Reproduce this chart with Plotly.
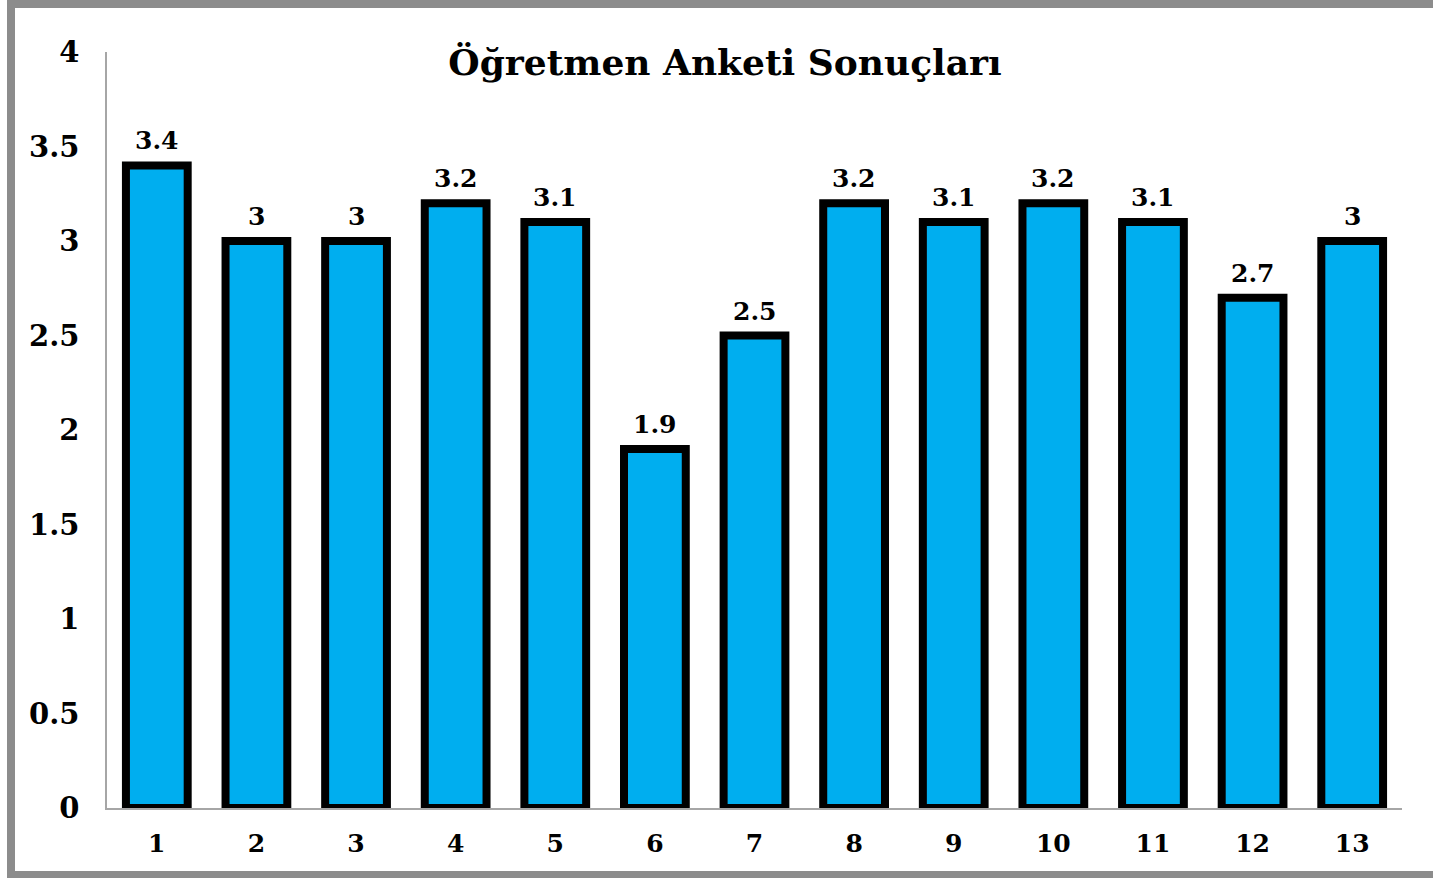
import plotly.graph_objects as go

categories = [str(i) for i in range(1, 14)]
values = [3.4, 3, 3, 3.2, 3.1, 1.9, 2.5, 3.2, 3.1, 3.2, 3.1, 2.7, 3]
y_ticks = [0, 0.5, 1, 1.5, 2, 2.5, 3, 3.5, 4]
y_tick_labels = ["0", "0.5", "1", "1.5", "2", "2.5", "3", "3.5", "4"]
title_text = "Öğretmen Anketi Sonuçları"

W, H = 1433, 878
L, R, T, B = 107, 31, 52, 70
pw, ph = W - L - R, H - T - B

def px_x(px):
    return (px - L) / pw

def px_y(py):
    return (H - B - py) / ph

FONT = "DejaVu Serif"

fig = go.Figure(go.Bar(
    x=categories,
    y=values,
    marker=dict(color="#00AEEF", line=dict(color="black", width=8)),
    hoverinfo="x+y",
))

# category axis: annotation positions given by category index
for idx, v in enumerate(values):
    fig.add_annotation(
        x=idx, y=v, xref="x", yref="y", text=f"{v:g}", showarrow=False,
        yanchor="bottom", yshift=8,
        font=dict(family=FONT, size=25, color="black", weight="bold"),
    )

fig.update_layout(
    width=W, height=H,
    margin=dict(l=L, r=R, t=T, b=B),
    paper_bgcolor="white",
    plot_bgcolor="white",
    bargap=0.38,
    showlegend=False,
    title=dict(
        text=title_text,
        x=px_x(725), xref="paper", xanchor="center",
        y=px_y(62), yref="paper", yanchor="middle",
        font=dict(family=FONT, size=36, color="black", weight="bold"),
    ),
    xaxis=dict(
        type="category",
        range=[-0.5, len(categories) - 0.5],
        showline=True, linecolor="#a6a6a6", linewidth=1.5,
        showgrid=False, ticks="",
        tickfont=dict(family=FONT, size=25, color="black", weight="bold"),
        ticklabelstandoff=12,
    ),
    yaxis=dict(
        range=[0, 4],
        tickvals=y_ticks, ticktext=y_tick_labels,
        showline=True, linecolor="#a6a6a6", linewidth=1.5,
        showgrid=False, zeroline=False, ticks="",
        tickfont=dict(family=FONT, size=29, color="black", weight="bold"),
        ticklabelstandoff=20,
    ),
    shapes=[
        dict(type="rect", xref="paper", yref="paper",
             x0=px_x(11), x1=px_x(1450), y0=px_y(875), y1=px_y(4),
             line=dict(color="#8c8c8c", width=8), fillcolor="rgba(0,0,0,0)",
             layer="above"),
    ],
)

fig.write_html(
    "out.html",
    config={"displayModeBar": False},
    post_script="document.body.style.margin='0';document.body.style.overflow='hidden';",
)
